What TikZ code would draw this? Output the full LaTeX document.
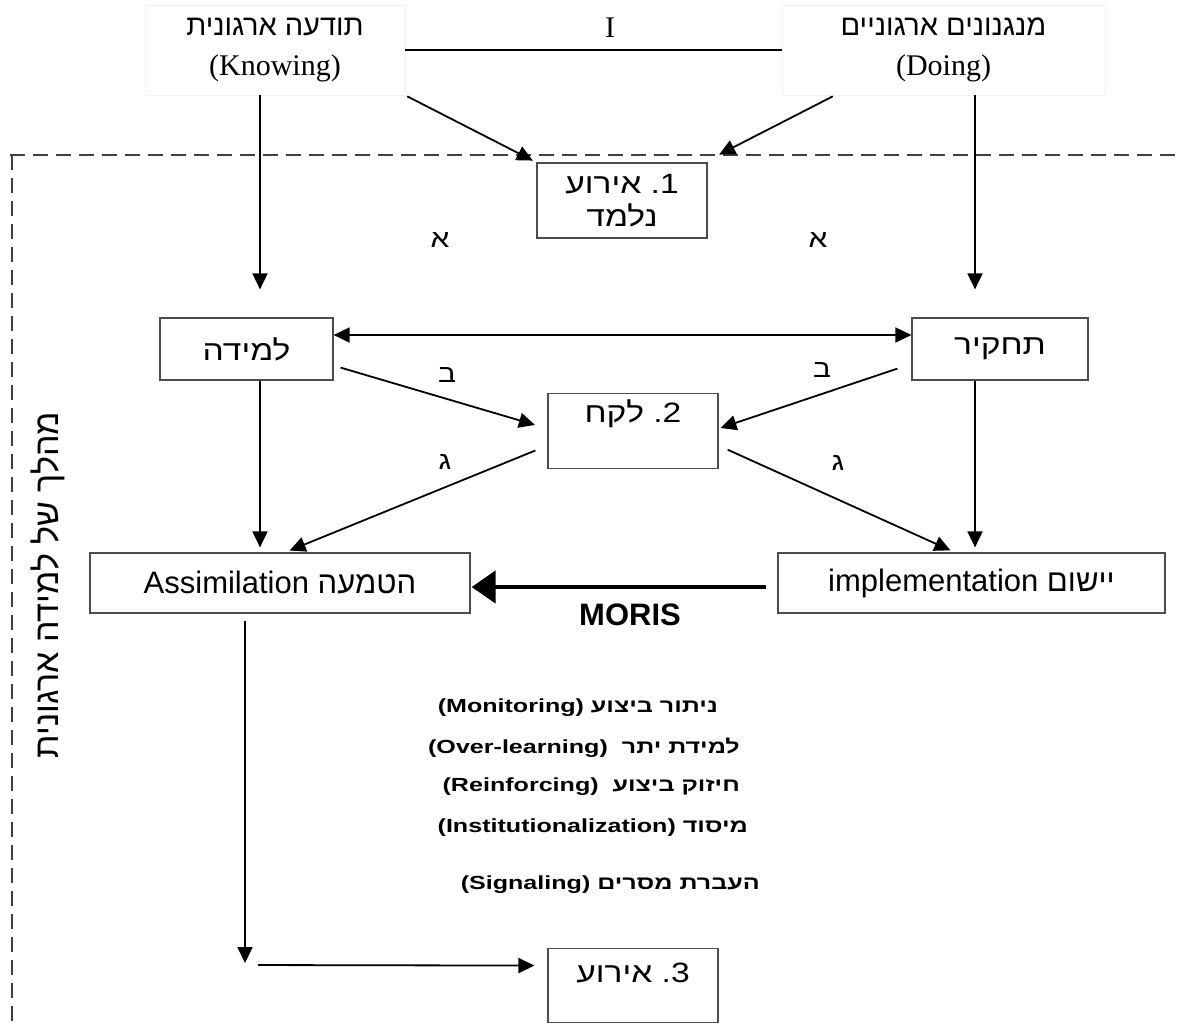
\documentclass[tikz,border=0pt]{standalone}
\usepackage{fontspec}
\setmainfont{Liberation Serif}
\newfontfamily\heb[Script=Hebrew]{Liberation Sans}
\newfontfamily\hebw[Script=Hebrew, FakeStretch=1.2]{Liberation Sans}
\newfontfamily\heblist[Script=Hebrew, FakeStretch=1.32]{Liberation Sans}
\TeXXeTstate=1
\usetikzlibrary{arrows.meta}
\begin{document}
\begin{tikzpicture}[x=1pt,y=-1pt,
  box/.style={draw=black!70, line width=1.2pt, inner sep=0pt, font=\hebw\fontsize{28}{33}\selectfont, align=center},
  topbox/.style={draw=black!5, line width=0.8pt, inner sep=0pt, align=center, minimum height=90pt},
  arr/.style={-{Triangle[length=16pt,width=15pt]}, line width=1.8pt},
  darr/.style={{Triangle[length=16pt,width=15pt]}-{Triangle[length=16pt,width=15pt]}, line width=1.8pt},
  bigarr/.style={-{Triangle[length=24pt,width=32pt]}, line width=4.5pt},
  lbl/.style={font=\hebw\fontsize{25}{27}\selectfont, inner sep=0pt},
  listtxt/.style={font=\heblist\bfseries\fontsize{19}{21}\selectfont, inner sep=0pt, anchor=east},
  dashline/.style={line width=1.2pt, black!75, dash pattern=on 15pt off 8pt}
]
\useasboundingbox (0,0) rectangle (1177,1025);

% dashed frame
\draw[dashline] (10,155) -- (1177,155);
\draw[dashline] (12,155) -- (12,1025);

% top boxes
\node[topbox, minimum width=260pt, font=\fontsize{30}{40}\selectfont] (know) at (275,50)
  {{\heb\fontsize{29}{40}\selectfont\beginR תודעה ארגונית\endR}\\(Knowing)};
\node[topbox, minimum width=323pt, font=\fontsize{30}{40}\selectfont] (doing) at (943.5,50)
  {{\heb\fontsize{29}{40}\selectfont\beginR מנגנונים ארגוניים\endR}\\(Doing)};
\draw[line width=1.8pt] (know.east) -- (doing.west);
\node[font=\fontsize{30}{32}\selectfont, inner sep=0pt] (iletter) at (610,28) {I};

% boxes
\node[box, minimum width=170pt, minimum height=75pt] (b1) at (622,200.5)
  {אירוע\ \hbox{.}\hbox{1}\\נלמד};
\node[box, minimum width=173pt, minimum height=62pt] (lm) at (246.5,349) {למידה};
\node[box, minimum width=176pt, minimum height=62pt] (tk) at (1000,349) {תחקיר};
\node[box, minimum width=170pt, text height=29pt, text depth=46pt, anchor=north] (b2) at (633,393)
  {לקח\ \hbox{.}\hbox{2}};
\node[box, minimum width=380pt, minimum height=60pt, font=\heb\fontsize{31}{33}\selectfont] (assim) at (280,583)
  {Assimilation הטמעה};
\node[box, minimum width=387pt, minimum height=60pt, font=\heb\fontsize{31}{33}\selectfont] (impl) at (971.5,583)
  {implementation יישום};
\node[box, minimum width=170pt, text height=34pt, text depth=40pt, anchor=north] (b3) at (633,948)
  {אירוע\ \hbox{.}\hbox{3}};

% labels
\node[lbl] (a1) at (440,240) {א};
\node[lbl] (a2) at (818,240) {א};
\node[lbl] (bt1) at (447,375) {ב};
\node[lbl] (bt2) at (822,370) {ב};
\node[lbl] (g1) at (445,462) {ג};
\node[lbl] (g2) at (838,463) {ג};

% arrows top
\draw[arr, shorten >=28pt] ([xshift=-15pt]know.south) -- ([xshift=13.5pt]lm.north);
\draw[arr, shorten >=28pt] ([xshift=31.5pt]doing.south) -- ([xshift=-25pt]tk.north);
\draw[arr, shorten <=2pt, shorten >=4pt] (know.south east) -- (b1.north west);
\draw[arr, shorten <=2pt, shorten >=4pt] ([xshift=53pt]doing.south west) -- ([xshift=8pt,yshift=6pt]b1.north east);

% middle
\draw[darr] ([yshift=14pt]lm.east) -- ([yshift=14pt]tk.west);
\draw[arr, shorten >=13pt] ([xshift=7pt,yshift=13pt]lm.south east) -- ([yshift=2.5pt]b2.west);
\draw[arr, shorten >=2pt] ([xshift=-14pt,yshift=12pt]tk.south west) -- ([yshift=2.5pt]b2.east);
\draw[arr, shorten <=13pt, shorten >=5pt] ([yshift=-14.5pt]b2.west) -- ([xshift=5pt]assim.north);
\draw[arr, shorten <=10pt, shorten >=5pt] ([yshift=-14.5pt]b2.east) -- ([xshift=-16.5pt]impl.north);
\draw[arr, shorten >=5pt] ([xshift=-20pt]lm.south -| assim.north) -- ([xshift=-20pt]assim.north);
\draw[arr, shorten >=5pt] ([xshift=-25pt]tk.south) -- ([xshift=3.5pt]impl.north);

% MORIS
\draw[bigarr, shorten <=11pt, shorten >=1pt] ([yshift=-4pt]impl.west) -- ([yshift=-4pt]assim.east);
\node[font=\heb\bfseries\fontsize{31}{33}\selectfont, inner sep=0pt] (moris) at (630,615) {MORIS};

% list
\node[listtxt] (l1) at (718,708) {(Monitoring) \beginR ניתור ביצוע\endR};
\node[listtxt] (l2) at (740,748) {(Over-learning)\ \ \beginR למידת יתר\endR};
\node[listtxt] (l3) at (740,787) {(Reinforcing)\ \ \beginR חיזוק ביצוע\endR};
\node[listtxt] (l4) at (748,828) {(Institutionalization) מיסוד};
\node[listtxt] (l5) at (760,885) {(Signaling) \beginR העברת מסרים\endR};

% bottom
\coordinate (corner) at (245,965);
\draw[arr, shorten <=7pt, shorten >=2pt] ([xshift=-35pt]assim.south) -- (corner);
\draw[arr, shorten <=13pt, shorten >=13pt] (corner) -- ([yshift=20pt]b3.west);

% vertical label
\node[font=\heb\fontsize{34}{36}\selectfont, rotate=90, inner sep=0pt] (side) at (48,585)
  {\beginR מהלך של למידה ארגונית\endR};
\end{tikzpicture}
\end{document}
